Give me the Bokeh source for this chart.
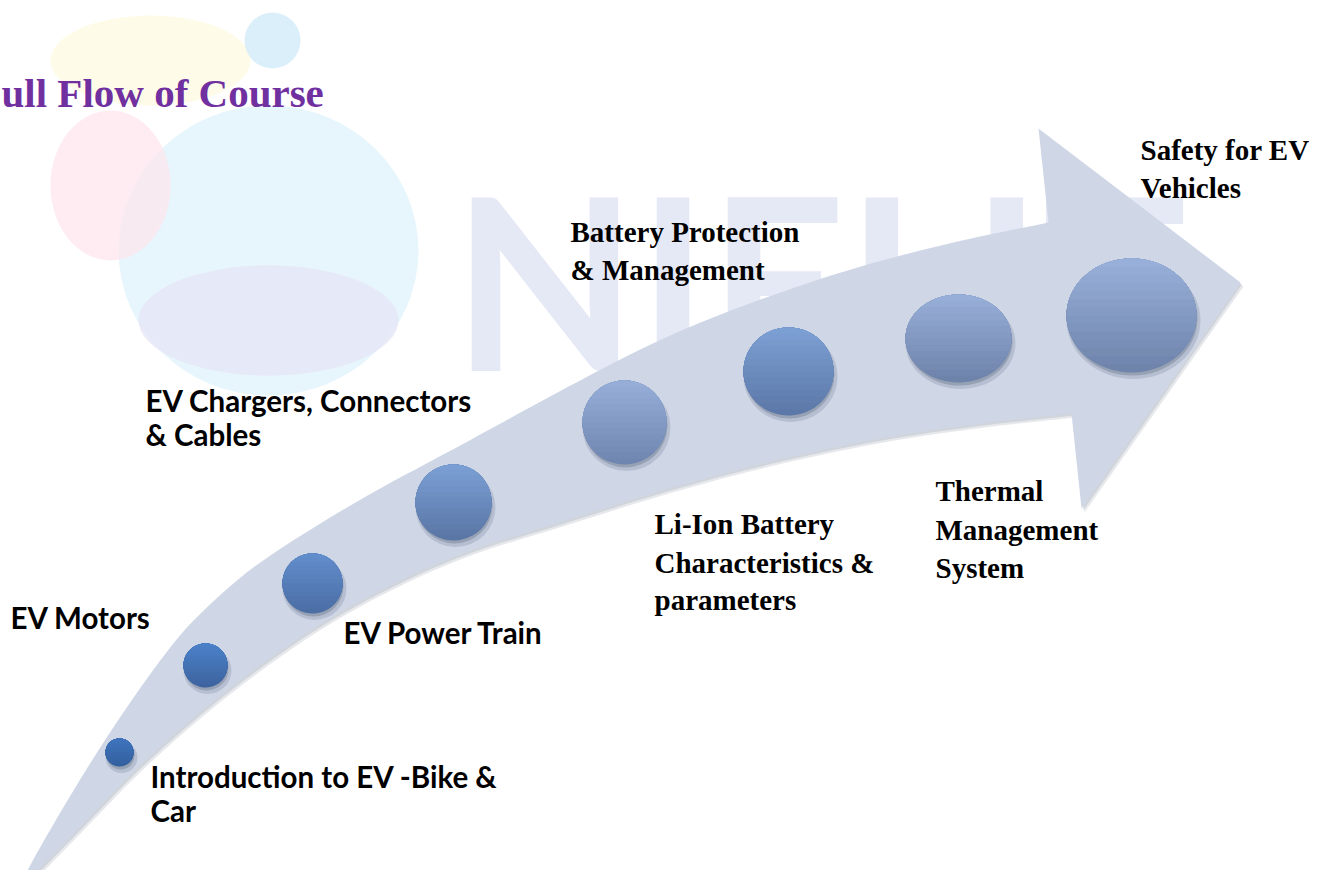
import numpy as np
from bokeh.plotting import figure
from bokeh.models import Range1d, ColumnDataSource
from bokeh.core.properties import value
from bokeh.embed import file_html
from bokeh.resources import INLINE

# ---- data (reference pixel coordinates, y grows downward) ----
upper_x = [8, 20, 43, 103, 173, 215, 260, 360, 460, 560, 660, 750, 850, 950, 1048]
upper_y = [902, 883, 840, 740, 640, 598, 560, 498, 445, 390, 338, 302, 268, 242, 222]
head_x = [1038, 1240, 1081, 1071]
head_y = [128, 282, 508, 413]
lower_x = [1071, 960, 860, 760, 660, 560, 450, 333, 233, 143, 83, 27, 8]
lower_y = [413, 425, 441, 463, 490, 522, 555, 613, 683, 760, 823, 880, 902]

circle_x = [119, 205, 312, 453, 624, 788, 958, 1131]
circle_y = [752, 665, 583, 502, 422, 371, 338, 315]
circle_w = [28, 44, 60, 76, 84, 90, 106, 130]
circle_h = [28, 44, 60, 76, 84, 88, 88, 114]
circle_top = ["#3f74bc", "#4a80c8", "#618dcb", "#7a9ed4", "#95add7", "#7c9fd3", "#97aed8", "#97afd9"]
circle_bot = ["#33609f", "#3e64a0", "#4b6ea5", "#5a76a5", "#6f86b0", "#5c78a8", "#6e83aa", "#6f84ab"]

title_text = "ull Flow of Course"
serif_lines = ["Safety for EV", "Vehicles", "Battery Protection", "& Management",
               "Li-Ion Battery", "Characteristics &", "parameters",
               "Thermal", "Management", "System"]
serif_x = [1140, 1140, 570, 570, 654, 654, 654, 935, 935, 935]
serif_y = [161, 199, 243, 281, 535, 574, 611, 502, 541, 579]
sans_lines = ["EV Chargers, Connectors", "& Cables", "EV Motors", "EV Power Train",
              "Introduction to EV -Bike &", "Car"]
sans_x = [145, 145, 10, 343, 150, 150]
sans_y = [413, 447, 630, 645, 789, 823]

watermark_text = "NIELIT"
# faint logo blobs of the background watermark
logo_x = [268, 268, 110, 150, 272]
logo_y = [250, 320, 185, 60, 40]
logo_w = [300, 260, 120, 200, 56]
logo_h = [290, 110, 150, 90, 56]
logo_col = ["#dff2fb", "#e6e4f5", "#fde6ee", "#fdfbe2", "#cfe9f8"]

p = figure(width=1309, height=870, output_backend="svg", toolbar_location=None,
           x_range=Range1d(0, 1309), y_range=Range1d(870, 0), min_border=0)
p.axis.visible = False
p.grid.visible = False
p.outline_line_color = None
p.background_fill_color = "white"
p.border_fill_color = "white"

# faint watermark
p.ellipse(x=logo_x, y=logo_y, width=logo_w, height=logo_h, fill_color=logo_col,
          fill_alpha=0.75, line_color=None)
p.text(x=[452], y=[372 - 95], text=[watermark_text], text_font=value("Lato"),
       text_font_style="bold", text_font_size="240px", text_color="#dfe2f3",
       text_alpha=0.8, text_baseline="alphabetic")


def chaikin(xs, ys, n=3):
    pts = np.column_stack([xs, ys]).astype(float)
    for _ in range(n):
        q = 0.75 * pts[:-1] + 0.25 * pts[1:]
        r = 0.25 * pts[:-1] + 0.75 * pts[1:]
        new = np.empty((2 * len(q), 2))
        new[0::2] = q
        new[1::2] = r
        pts = np.vstack([pts[:1], new, pts[-1:]])
    return list(pts[:, 0]), list(pts[:, 1])


ux, uy = chaikin(upper_x, upper_y)
lx, ly = chaikin(lower_x, lower_y)
arrow_x = ux + head_x + lx
arrow_y = uy + head_y + ly

# shadow
p.patch([v + 3 for v in arrow_x], [v + 4 for v in arrow_y], fill_color="#8f97a8",
        fill_alpha=0.22, line_color=None)
p.patch([v + 1.5 for v in arrow_x], [v + 2 for v in arrow_y], fill_color="#8f97a8",
        fill_alpha=0.25, line_color=None)
p.patch(arrow_x, arrow_y, fill_color="#cfd7e7", line_color=None)


def mix(c1, c2, t):
    a = [int(c1[i:i + 2], 16) for i in (1, 3, 5)]
    b = [int(c2[i:i + 2], 16) for i in (1, 3, 5)]
    return "#%02x%02x%02x" % tuple(int(round(a[j] + (b[j] - a[j]) * t)) for j in range(3))


# circle shadows
p.ellipse(x=[c + 2 for c in circle_x], y=[c + 5 for c in circle_y],
          width=[w + 4 for w in circle_w], height=[h + 3 for h in circle_h],
          fill_color="#3b4660", fill_alpha=0.16, line_color=None)
p.ellipse(x=[c + 1 for c in circle_x], y=[c + 3 for c in circle_y],
          width=circle_w, height=circle_h,
          fill_color="#3b4660", fill_alpha=0.25, line_color=None)

# gradient circles: base + stacked caps
N = 14
xs, ys, cols = [], [], []
for cx, cy, w, h, ct, cb in zip(circle_x, circle_y, circle_w, circle_h, circle_top, circle_bot):
    rx, ry = w / 2, h / 2
    t = np.linspace(0, 2 * np.pi, 80)
    xs.append(list(cx + rx * np.cos(t)))
    ys.append(list(cy + ry * np.sin(t)))
    cols.append(cb)
    for k in range(1, N):
        s = 1 - 2 * k / N
        a0 = np.pi - np.arcsin(s)
        a1 = 2 * np.pi + np.arcsin(s)
        tt = np.linspace(a0, a1, 60)
        xs.append(list(cx + rx * np.cos(tt)))
        ys.append(list(cy + ry * np.sin(tt)))
        cols.append(mix(cb, ct, k / (N - 1)))
p.patches(xs="xs", ys="ys", fill_color="cols", line_color=None,
          source=ColumnDataSource(dict(xs=xs, ys=ys, cols=cols)))

# texts (baseline offsets compensate the SVG text placement)
p.text(x=[1], y=[107 - 15], text=[title_text], text_font=value("Liberation Serif"),
       text_font_style="bold", text_font_size="41px", text_color="#7030a0",
       text_baseline="alphabetic")
p.text(x=serif_x, y=[v - 12 for v in serif_y], text=serif_lines,
       text_font=value("Liberation Serif"),
       text_font_style="bold", text_font_size="29px", text_color="black",
       text_baseline="alphabetic")
p.text(x=sans_x, y=[v - 13 for v in sans_y], text=sans_lines, text_font=value("Lato"),
       text_font_style="bold", text_font_size="29.5px", text_color="black",
       text_baseline="alphabetic")

open("out.html", "w").write(file_html(p, INLINE))
